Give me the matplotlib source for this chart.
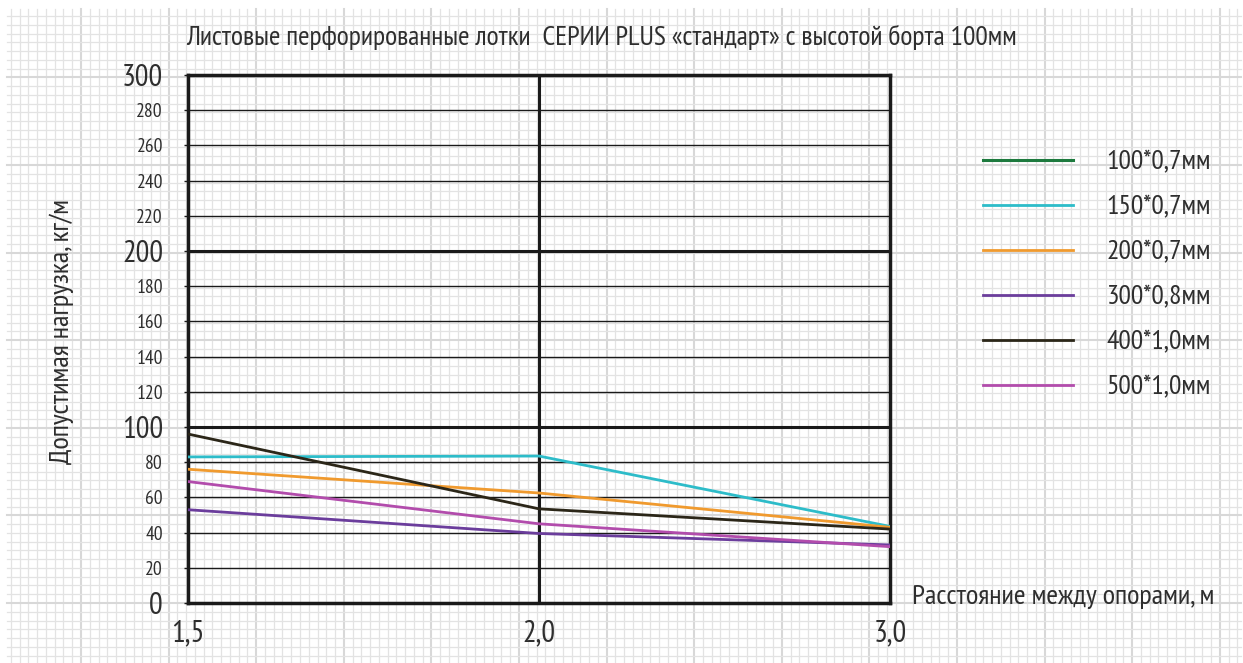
import numpy as np
import matplotlib
matplotlib.use("Agg")
import matplotlib.pyplot as plt
from matplotlib.lines import Line2D

# data
spans = ["1,5", "2,0", "3,0"]
series_labels = ["100*0,7мм", "150*0,7мм", "200*0,7мм", "300*0,8мм", "400*1,0мм", "500*1,0мм"]
series_colors = ["#1d7a3e", "#2dbcc9", "#f09a2e", "#6b3d9c", "#2b2618", "#b24cac"]
load_150 = [83, 83.5, 43.5]
load_200 = [76, 62.5, 43]
load_300 = [53, 39.5, 33]
load_400 = [96, 53.5, 42]
load_500 = [69, 45, 32]
yticks = np.arange(0, 301, 20)

plt.rcParams["font.family"] = ["PT Sans Narrow", "DejaVu Sans"]
txt_col = "#2e2e2e"

W, H = 1243, 663
fig = plt.figure(figsize=(W / 100, H / 100), dpi=100)

# graph-paper background, in pixel coordinates
bg = fig.add_axes([0, 0, 1, 1])
bg.set_xlim(0, W)
bg.set_ylim(H, 0)
bg.axis("off")
step = 8.76
gx0, gy0 = 957, 603
xs = gx0 + step * np.arange(-120, 40)
ys = gy0 - step * np.arange(-10, 80)
xs = xs[(xs > 7) & (xs < W - 2)]
ys = ys[(ys > 9) & (ys < H - 1)]
for x in xs:
    major = round((x - gx0) / step) % 10 == 0
    bg.plot([x, x], [9, H - 1], color="#d8d8d8" if major else "#e3e3e3",
            lw=1.5 if major else 0.9, zorder=0)
for y in ys:
    major = round((gy0 - y) / step) % 10 == 0
    bg.plot([7, W - 2], [y, y], color="#d8d8d8" if major else "#e3e3e3",
            lw=1.5 if major else 0.9, zorder=0)

ax = fig.add_axes([188 / W, (H - 603) / H, (890 - 188) / W, (603 - 75) / H])
ax.patch.set_alpha(0)
x = np.arange(len(spans))
for yv in yticks[1:-1]:
    ax.axhline(yv, color="#1a1a1a", lw=2.2 if yv % 100 == 0 else 1.0, zorder=1)
ax.axvline(1, color="#1a1a1a", lw=2.2, zorder=1)

lines = []
for vals, c in zip([load_150, load_200, load_300, load_400, load_500], series_colors[1:]):
    ln, = ax.plot(x, vals, color=c, lw=2.0, zorder=3)
    lines.append(ln)

ax.set_xlim(0, 2)
ax.set_ylim(0, 300)
ax.set_xticks(x)
ax.set_xticklabels(spans, fontsize=22, color=txt_col)
ax.set_yticks(yticks)
ax.set_yticklabels([str(v) for v in yticks], color=txt_col)
for lab, v in zip(ax.get_yticklabels(), yticks):
    lab.set_fontsize(22 if v % 100 == 0 else 14)
ax.tick_params(axis="y", length=3, width=1, pad=15, color="#1a1a1a")
ax.tick_params(axis="x", length=0, pad=12)
for s in ax.spines.values():
    s.set_linewidth(2.5)
    s.set_color("#1a1a1a")

fig.text(186 / W, 1 - 37 / H, "Листовые перфорированные лотки  СЕРИИ PLUS «стандарт» с высотой борта 100мм",
         fontsize=20, color=txt_col, va="center", ha="left")
fig.text(62 / W, 1 - 332 / H, "Допустимая нагрузка, кг/м", rotation=90,
         fontsize=20.5, color=txt_col, va="center", ha="center")
fig.text(912 / W, 1 - 597 / H, "Расстояние между опорами, м",
         fontsize=20.5, color=txt_col, va="center", ha="left")

handles = [Line2D([], [], color=series_colors[0], lw=2.2)] + lines
leg = fig.legend(handles, series_labels, loc="upper left",
                 bbox_to_anchor=(983 / W, 1 - 150 / H), frameon=False,
                 borderpad=0, borderaxespad=0,
                 fontsize=20, handlelength=3.25, handletextpad=1.2,
                 labelspacing=0.74, labelcolor=txt_col)

fig.savefig("out.png", dpi=100)
